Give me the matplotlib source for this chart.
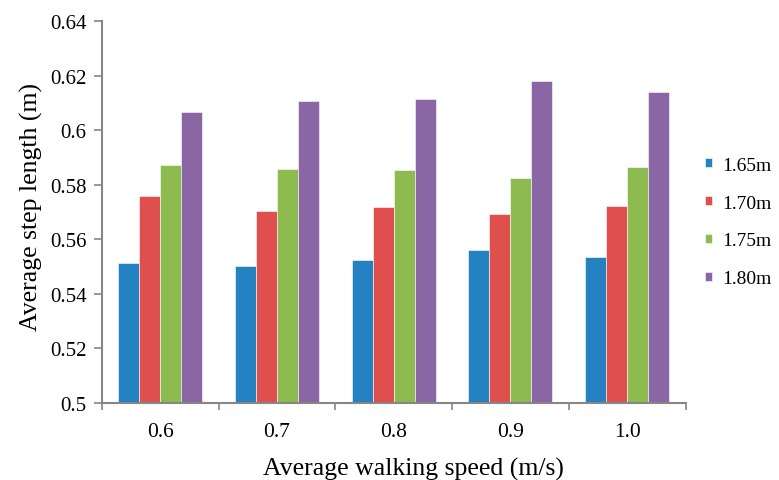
import matplotlib
matplotlib.use("Agg")
import matplotlib.pyplot as plt
import numpy as np

speeds = ["0.6", "0.7", "0.8", "0.9", "1.0"]
series_labels = ["1.65m", "1.70m", "1.75m", "1.80m"]
h165 = [0.5512, 0.5501, 0.5523, 0.5561, 0.5534]
h170 = [0.5757, 0.5704, 0.5718, 0.5693, 0.5722]
h175 = [0.5873, 0.5859, 0.5854, 0.5823, 0.5865]
h180 = [0.6066, 0.6106, 0.6114, 0.6181, 0.6139]
colors = ["#2481C2", "#DE4F4E", "#8EBB4F", "#8B66A5"]
yticks = [0.5, 0.52, 0.54, 0.56, 0.58, 0.6, 0.62, 0.64]
ytick_labels = ["0.5", "0.52", "0.54", "0.56", "0.58", "0.6", "0.62", "0.64"]

plt.rcParams['font.family'] = ['Liberation Serif', 'DejaVu Serif']

fig = plt.figure(figsize=(7.79, 4.81), dpi=100)
ax = fig.add_axes([102/779, 77/481, 583.5/779, 382/481])

x = np.arange(len(speeds))
bw = 0.18
data = [h165, h170, h175, h180]
for i, (vals, c, lab) in enumerate(zip(data, colors, series_labels)):
    ax.bar(x + (i - 1.5) * bw, np.array(vals) - 0.5, bottom=0.5, width=bw,
           color=c, label=lab, edgecolor='white', linewidth=0.4)

ax.set_xlim(-0.5, len(speeds) - 0.5)
ax.set_ylim(0.5, 0.64)
ax.set_yticks(yticks)
ax.set_yticklabels(ytick_labels)
ax.set_xticks(x)
ax.set_xticklabels(speeds)
ax.tick_params(axis='x', length=0, labelsize=15.5, pad=14)
ax.set_xticks(np.arange(-0.5, len(speeds), 1.0), minor=True)
ax.tick_params(axis='x', which='minor', length=5, width=1.2, color='#868686', direction='out')
ax.tick_params(axis='y', length=6, width=1.2, color='#868686', labelsize=15, direction='out', pad=5)

for s in ['top', 'right']:
    ax.spines[s].set_visible(False)
for s in ['left', 'bottom']:
    ax.spines[s].set_color('#868686')
    ax.spines[s].set_linewidth(1.5)

ax.set_xlabel("Average walking speed (m/s)", fontsize=18.5)
ax.xaxis.set_label_coords((413 - 102) / 583.5, -(458 - 404) / 382)
ax.set_ylabel("Average step length (m)", fontsize=18.5)
ax.yaxis.set_label_coords(-(102 - 43) / 583.5, (404 - 207.5) / 382)

leg = ax.legend(loc='center left', bbox_to_anchor=(1.033, 0.474), frameon=False,
                fontsize=14, handlelength=0.36, handleheight=0.36, labelspacing=1.07,
                handletextpad=0.55, borderaxespad=0, borderpad=0)

fig.savefig("out.png", dpi=100)
